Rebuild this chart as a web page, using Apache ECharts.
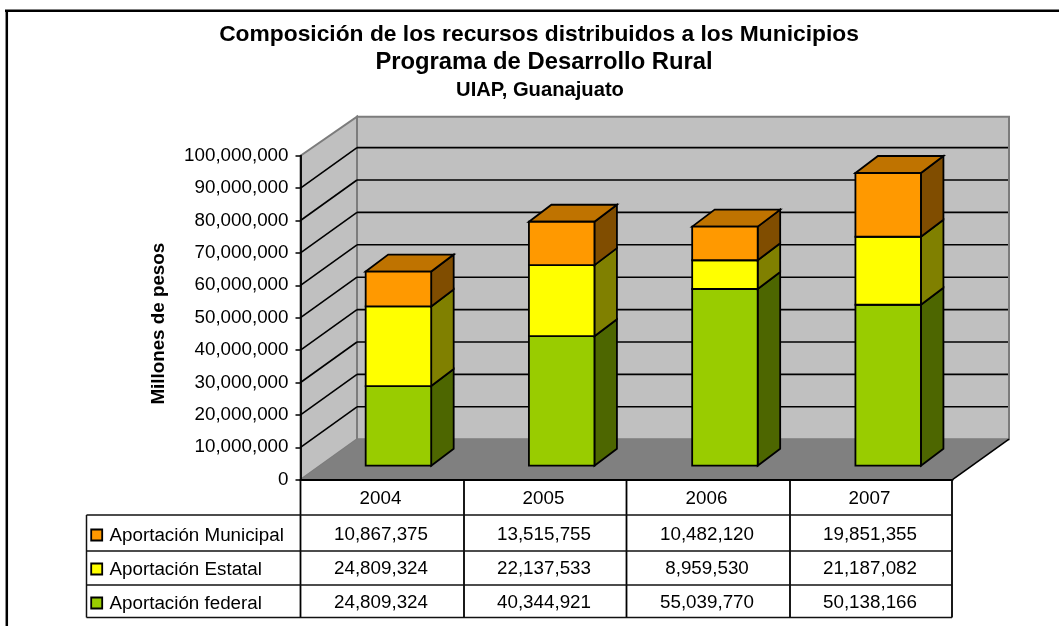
<!DOCTYPE html>
<html>
<head>
<meta charset="utf-8">
<title>Composición de los recursos</title>
<script src="https://cdn.jsdelivr.net/npm/echarts@6/dist/echarts.min.js"></script>
<style>
    html, body { margin: 0; padding: 0; background: #fff; }
    #chart { width: 1059px; height: 626px; }
</style>
</head>
<body>
<div id="chart"></div>
<script>
// Datos de la tabla
const years = ['2004', '2005', '2006', '2007'];
const federal = [24809324, 40344921, 55039770, 50138166];
const estatal = [24809324, 22137533, 8959530, 21187082];
const municipal = [10867375, 13515755, 10482120, 19851355];
const seriesNames = ['Aportación federal', 'Aportación Estatal', 'Aportación Municipal'];
const yMax = 100000000;
const yStep = 10000000;

const FONT = '"Liberation Sans", Arial, sans-serif';
const TEXT_SIZE = 18.8;

// Caras de cada barra: frente, lado, tapa
const faceColors = [
    ['#99cc00', '#4d6600', '#739900'],
    ['#ffff00', '#808000', '#bfbf00'],
    ['#ff9900', '#804d00', '#bf7300'],
];

// Profundidad del "3D"
const WALL_DX = 56.5;
const WALL_DY = 40.5;
const BAR_DX = 22.5;
const BAR_DY = 17;
const BAR_W = 65.5;

let chart = echarts.init(document.getElementById('chart'));

function fmt(n) {
    return n.toString().replace(/\B(?=(\d{3})+(?!\d))/g, ',');
}

function poly(points, fill, stroke, lineWidth, z2) {
    return {
        type: 'polygon',
        z2: z2 || 0,
        shape: { points: points },
        style: { fill: fill, stroke: stroke || null, lineWidth: lineWidth || 0 },
    };
}

function seg(x1, y1, x2, y2, color, width) {
    return {
        type: 'line',
        shape: { x1: x1, y1: y1, x2: x2, y2: y2 },
        style: { stroke: color, lineWidth: width, fill: null },
    };
}

// Paredes, piso y lineas de division
function renderWalls(params, api) {
    let cs = params.coordSys;
    let x0 = cs.x, x1 = cs.x + cs.width;
    let yBase = api.coord([years[0], 0])[1];
    let yTop = api.coord([years[0], yMax])[1];
    let items = [
        poly([[x0, yTop], [x0 + WALL_DX, yTop - 39], [x0 + WALL_DX, yBase - WALL_DY], [x0, yBase]], '#c0c0c0', '#7c7c7c', 2),
        poly([[x0 + WALL_DX, yTop - 39], [x1 + WALL_DX, yTop - 39], [x1 + WALL_DX, yBase - WALL_DY], [x0 + WALL_DX, yBase - WALL_DY]], '#c0c0c0', '#7c7c7c', 2),
    ];
    for (let v = yStep; v < yMax; v += yStep) {
        let y = api.coord([years[0], v])[1];
        items.push(seg(x0, y, x0 + WALL_DX, y - WALL_DY, '#000', 1.6));
        items.push(seg(x0 + WALL_DX, y - WALL_DY, x1 + WALL_DX - 1, y - WALL_DY, '#000', 1.6));
    }
    items.push(poly([[x0, yBase], [x0 + WALL_DX, yBase - WALL_DY], [x1 + WALL_DX, yBase - WALL_DY], [x1, yBase]], '#808080', null, 0));
    items.push(seg(x1, yBase, x1 + WALL_DX, yBase - WALL_DY, '#000', 1.6));
    return { type: 'group', children: items };
}

// Un tramo de la barra apilada
function renderSegment(params, api) {
    let row = params.seriesIndex - 1;
    let cat = api.value(0);
    let xc = api.coord([cat, 0])[0];
    let yLow = api.coord([cat, api.value(1)])[1];
    let yHigh = api.coord([cat, api.value(2)])[1];
    let l = xc - BAR_W / 2, r = xc + BAR_W / 2;
    let colors = faceColors[row];
    let children = [
        poly([[r, yLow], [r + BAR_DX, yLow - BAR_DY], [r + BAR_DX, yHigh - BAR_DY], [r, yHigh]], colors[1], '#000', 1.8),
    ];
    if (row === faceColors.length - 1) {
        children.push(poly([[l, yHigh], [l + BAR_DX, yHigh - BAR_DY], [r + BAR_DX, yHigh - BAR_DY], [r, yHigh]], colors[2], '#000', 1.8));
    }
    children.push(poly([[l, yLow], [r, yLow], [r, yHigh], [l, yHigh]], colors[0], '#000', 1.8));
    return { type: 'group', children: children };
}

// Celdas de la tabla de datos (fila de arriba hacia abajo)
const tableRows = [municipal, estatal, federal];
const rowCenters = [534.5, 568.5, 602.5];
function renderCell(params, api) {
    return {
        type: 'text',
        style: {
            text: fmt(api.value(1)),
            x: api.coord([api.value(0), 0])[0] - 1,
            y: rowCenters[api.value(2)],
            align: 'center',
            verticalAlign: 'middle',
            fill: '#000',
            font: TEXT_SIZE + 'px ' + FONT,
        },
    };
}

let cells = [];
tableRows.forEach(function (values, r) {
    values.forEach(function (v, c) {
        cells.push([c, v, r]);
    });
});

function stacked(row) {
    return years.map(function (y, i) {
        let base = 0;
        for (let k = 0; k < row; k++) {
            base += [federal, estatal, municipal][k][i];
        }
        return [i, base, base + [federal, estatal, municipal][row][i]];
    });
}

// Lineas y leyenda de la tabla
const colX = [300.5, 464, 626.5, 790, 952];
const rowY = [515, 551, 585, 617.5];
const legendLeft = 86.5;
let tableGraphic = [];
colX.forEach(function (x) {
    tableGraphic.push({ type: 'line', shape: { x1: x, y1: 479.5, x2: x, y2: rowY[3] }, style: { stroke: '#000', lineWidth: 1.8 } });
});
rowY.forEach(function (y) {
    tableGraphic.push({ type: 'line', shape: { x1: legendLeft, y1: y, x2: colX[4], y2: y }, style: { stroke: '#111', lineWidth: 1.5 } });
});
tableGraphic.push({ type: 'line', shape: { x1: legendLeft, y1: rowY[0], x2: legendLeft, y2: rowY[3] }, style: { stroke: '#111', lineWidth: 1.5 } });
[2, 1, 0].forEach(function (k, r) {
    tableGraphic.push({
        type: 'rect',
        shape: { x: 91.2, y: rowCenters[r] - 5, width: 11, height: 11 },
        style: { fill: faceColors[k][0], stroke: '#000', lineWidth: 1.8 },
    });
    tableGraphic.push({
        type: 'text',
        style: {
            text: seriesNames[k],
            x: 109.5,
            y: rowCenters[r] + 1.5,
            verticalAlign: 'middle',
            fill: '#000',
            font: TEXT_SIZE + 'px ' + FONT,
        },
    });
});
// Marco exterior
tableGraphic.push({ type: 'line', shape: { x1: 5, y1: 10.7, x2: 1059, y2: 10.7 }, style: { stroke: '#000', lineWidth: 2.5 } });
tableGraphic.push({ type: 'line', shape: { x1: 6.8, y1: 10, x2: 6.8, y2: 626 }, style: { stroke: '#000', lineWidth: 2.5 } });

function titleLine(text, cx, top, size) {
    return {
        text: text,
        left: cx,
        top: top,
        padding: 0,
        textAlign: 'center',
        textStyle: { fontFamily: FONT, fontSize: size, fontWeight: 'bold', color: '#000' },
    };
}

let options = {
    animation: false,
    backgroundColor: '#fff',
    title: [
        titleLine('Composición de los recursos distribuidos a los Municipios', 539, 23.5, 22.8),
        titleLine('Programa de Desarrollo Rural', 544, 50, 23.8),
        titleLine('UIAP, Guanajuato', 540, 80, 20.2),
    ],
    // grid 0: eje frontal, grid 1: plano donde se paran las barras
    grid: [
        { left: 300.5, top: 155.7, width: 652, height: 324 },
        { left: 316.8, top: 144.7, width: 653, height: 321 },
    ],
    xAxis: [
        {
            type: 'category',
            gridIndex: 0,
            data: years,
            axisTick: { show: false },
            axisLine: { lineStyle: { color: '#000', width: 2 } },
            axisLabel: { color: '#000', fontFamily: FONT, fontSize: TEXT_SIZE, margin: 10, padding: [0, 3, 0, 0] },
            z: 6,
        },
        { type: 'category', gridIndex: 1, data: years, show: false },
    ],
    yAxis: [
        {
            type: 'value',
            gridIndex: 0,
            min: 0,
            max: yMax,
            interval: yStep,
            name: 'Millones de pesos',
            nameLocation: 'middle',
            nameGap: 132,
            nameTextStyle: { color: '#000', fontFamily: FONT, fontSize: 18.8, fontWeight: 'bold', padding: [0, 12, 0, 0] },
            splitLine: { show: false },
            axisLine: { show: true, lineStyle: { color: '#000', width: 1.8 } },
            axisTick: { show: true, length: 5, lineStyle: { color: '#000', width: 1.5 } },
            axisLabel: { color: '#000', fontFamily: FONT, fontSize: TEXT_SIZE, margin: 12, formatter: fmt },
            z: 6,
        },
        { type: 'value', gridIndex: 1, min: 0, max: yMax, interval: yStep, show: false },
    ],
    series: [
        {
            type: 'custom',
            name: 'paredes',
            xAxisIndex: 0,
            yAxisIndex: 0,
            clip: false,
            z: 1,
            silent: true,
            renderItem: renderWalls,
            data: [[0, 0]],
        },
        { type: 'custom', name: seriesNames[0], xAxisIndex: 1, yAxisIndex: 1, z: 2, renderItem: renderSegment, encode: { x: 0, y: [1, 2] }, data: stacked(0) },
        { type: 'custom', name: seriesNames[1], xAxisIndex: 1, yAxisIndex: 1, z: 3, renderItem: renderSegment, encode: { x: 0, y: [1, 2] }, data: stacked(1) },
        { type: 'custom', name: seriesNames[2], xAxisIndex: 1, yAxisIndex: 1, z: 4, renderItem: renderSegment, encode: { x: 0, y: [1, 2] }, data: stacked(2) },
        {
            type: 'custom',
            name: 'tabla',
            xAxisIndex: 0,
            yAxisIndex: 0,
            z: 7,
            silent: true,
            renderItem: renderCell,
            encode: { x: 0 },
            data: cells,
        },
    ],
    graphic: tableGraphic,
};

chart.setOption(options);
</script>
</body>
</html>
